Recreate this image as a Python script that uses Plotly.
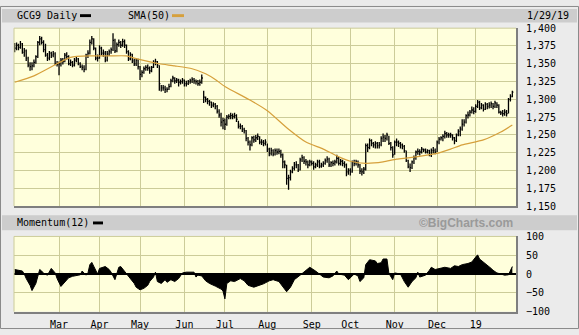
import plotly.graph_objects as go
import pandas as pd

# ---------------- data ----------------
closed_days = ["2018-03-30", "2018-12-25", "2019-01-01"]
dates = [d for d in pd.bdate_range("2018-01-29", "2019-01-29")
         if d.strftime("%Y-%m-%d") not in closed_days]

# closes / highs / lows by month (Jan 29 2018 .. Jan 29 2019)
c_janfeb = [1372, 1376, 1373, 1378, 1366, 1368, 1358, 1348, 1346, 1347, 1352, 1360, 1380, 1385, 1380, 1370, 1362, 1358, 1365, 1362, 1364, 1350, 1349]
h_janfeb = [1379, 1380, 1378, 1382, 1379, 1372, 1370, 1360, 1352, 1352, 1356, 1362, 1382, 1389, 1388, 1383, 1378, 1365, 1368, 1367, 1368, 1366, 1354]
l_janfeb = [1366, 1369, 1369, 1371, 1364, 1360, 1354, 1345, 1340, 1341, 1345, 1350, 1358, 1376, 1377, 1366, 1360, 1354, 1355, 1358, 1359, 1348, 1346]

c_mar = [1350, 1355, 1353, 1362, 1360, 1350, 1352, 1348, 1355, 1357, 1350, 1346, 1345, 1342, 1362, 1365, 1380, 1385, 1372, 1358, 1358]
h_mar = [1353, 1358, 1358, 1365, 1366, 1362, 1356, 1354, 1358, 1361, 1358, 1352, 1349, 1348, 1364, 1369, 1384, 1389, 1386, 1373, 1363]
l_mar = [1334, 1346, 1349, 1352, 1356, 1348, 1347, 1345, 1346, 1352, 1348, 1344, 1341, 1338, 1341, 1358, 1363, 1377, 1369, 1355, 1353]

c_apr = [1372, 1365, 1365, 1355, 1364, 1367, 1370, 1383, 1368, 1377, 1380, 1376, 1381, 1376, 1367, 1357, 1363, 1354, 1350, 1355, 1346]
h_apr = [1376, 1374, 1370, 1368, 1368, 1370, 1373, 1393, 1385, 1380, 1384, 1382, 1385, 1384, 1377, 1369, 1366, 1364, 1357, 1358, 1357]
l_apr = [1357, 1362, 1360, 1352, 1353, 1361, 1364, 1368, 1365, 1366, 1374, 1372, 1374, 1372, 1364, 1354, 1355, 1351, 1347, 1347, 1342]

c_may = [1335, 1338, 1343, 1345, 1344, 1340, 1345, 1352, 1353, 1348, 1322, 1316, 1316, 1314, 1314, 1318, 1326, 1330, 1326, 1327, 1324, 1325, 1327]
h_may = [1347, 1341, 1346, 1348, 1349, 1346, 1347, 1355, 1357, 1354, 1348, 1320, 1320, 1319, 1317, 1322, 1329, 1333, 1331, 1330, 1329, 1328, 1330]
l_may = [1327, 1331, 1336, 1340, 1340, 1336, 1338, 1344, 1348, 1344, 1312, 1311, 1312, 1309, 1310, 1313, 1317, 1324, 1322, 1323, 1318, 1321, 1322]

c_jun = [1322, 1322, 1325, 1326, 1328, 1326, 1325, 1322, 1324, 1330, 1303, 1300, 1297, 1296, 1292, 1293, 1290, 1283, 1278, 1268, 1270]
h_jun = [1328, 1326, 1327, 1329, 1331, 1330, 1328, 1327, 1328, 1335, 1312, 1304, 1302, 1299, 1297, 1296, 1295, 1292, 1286, 1281, 1274]
l_jun = [1318, 1318, 1320, 1322, 1323, 1322, 1321, 1319, 1319, 1322, 1295, 1296, 1293, 1291, 1288, 1289, 1286, 1280, 1274, 1262, 1258]

c_jul = [1265, 1275, 1276, 1277, 1276, 1277, 1272, 1262, 1262, 1258, 1256, 1245, 1240, 1236, 1246, 1243, 1246, 1248, 1240, 1240, 1238, 1240]
h_jul = [1273, 1278, 1279, 1281, 1280, 1281, 1279, 1270, 1266, 1264, 1260, 1257, 1247, 1242, 1248, 1249, 1250, 1252, 1248, 1244, 1243, 1244]
l_jul = [1257, 1263, 1272, 1272, 1272, 1273, 1268, 1259, 1258, 1254, 1252, 1241, 1235, 1228, 1234, 1239, 1240, 1243, 1237, 1236, 1234, 1235]

c_aug = [1230, 1224, 1228, 1223, 1228, 1226, 1227, 1222, 1212, 1208, 1189, 1190, 1198, 1203, 1208, 1208, 1201, 1215, 1218, 1213, 1212, 1208, 1212]
h_aug = [1238, 1232, 1232, 1230, 1231, 1231, 1231, 1229, 1224, 1214, 1208, 1194, 1201, 1206, 1212, 1213, 1209, 1218, 1222, 1220, 1216, 1214, 1215]
l_aug = [1226, 1220, 1221, 1220, 1221, 1222, 1223, 1218, 1203, 1203, 1180, 1173, 1186, 1196, 1200, 1203, 1198, 1200, 1212, 1209, 1207, 1203, 1206]

c_sep = [1210, 1205, 1208, 1212, 1206, 1208, 1210, 1214, 1216, 1208, 1211, 1210, 1212, 1217, 1210, 1213, 1210, 1208, 1198, 1200]
h_sep = [1214, 1213, 1211, 1215, 1215, 1211, 1213, 1217, 1220, 1218, 1213, 1214, 1215, 1222, 1219, 1216, 1215, 1213, 1210, 1203]
l_sep = [1207, 1201, 1203, 1205, 1203, 1204, 1205, 1208, 1211, 1205, 1205, 1206, 1207, 1210, 1207, 1207, 1206, 1204, 1192, 1194]

c_oct = [1198, 1212, 1210, 1212, 1208, 1199, 1198, 1202, 1235, 1232, 1242, 1238, 1236, 1238, 1235, 1236, 1245, 1247, 1245, 1250, 1238, 1232, 1222]
h_oct = [1203, 1214, 1215, 1215, 1214, 1209, 1203, 1205, 1238, 1238, 1245, 1244, 1240, 1241, 1240, 1240, 1248, 1252, 1250, 1253, 1249, 1240, 1234]
l_oct = [1193, 1197, 1206, 1207, 1204, 1195, 1193, 1195, 1200, 1226, 1230, 1234, 1232, 1231, 1231, 1231, 1234, 1240, 1240, 1242, 1236, 1228, 1218]

c_nov = [1240, 1240, 1238, 1236, 1234, 1228, 1214, 1205, 1204, 1212, 1218, 1226, 1227, 1226, 1230, 1229, 1226, 1228, 1222, 1228, 1228, 1226]
h_nov = [1242, 1245, 1242, 1240, 1238, 1236, 1228, 1215, 1210, 1214, 1221, 1228, 1231, 1230, 1233, 1231, 1231, 1230, 1229, 1231, 1233, 1231]
l_nov = [1222, 1234, 1233, 1231, 1230, 1225, 1212, 1203, 1198, 1202, 1209, 1215, 1222, 1221, 1224, 1226, 1224, 1224, 1220, 1219, 1224, 1223]

c_dec = [1240, 1244, 1246, 1248, 1252, 1250, 1250, 1250, 1246, 1242, 1250, 1255, 1258, 1265, 1268, 1277, 1278, 1282, 1285, 1283]
h_dec = [1242, 1247, 1248, 1251, 1256, 1254, 1253, 1253, 1251, 1247, 1252, 1258, 1262, 1272, 1272, 1279, 1283, 1285, 1290, 1289]
l_dec = [1226, 1237, 1242, 1241, 1245, 1246, 1246, 1246, 1242, 1237, 1240, 1248, 1248, 1256, 1262, 1266, 1273, 1276, 1280, 1279]

c_jan = [1290, 1296, 1288, 1292, 1286, 1293, 1290, 1292, 1294, 1290, 1295, 1292, 1282, 1281, 1280, 1282, 1280, 1300, 1304, 1310]
h_jan = [1293, 1299, 1298, 1295, 1293, 1296, 1295, 1296, 1297, 1295, 1298, 1296, 1293, 1284, 1285, 1286, 1285, 1302, 1307, 1312]
l_jan = [1281, 1288, 1285, 1286, 1283, 1285, 1286, 1287, 1288, 1286, 1288, 1288, 1280, 1278, 1276, 1277, 1276, 1280, 1297, 1303]

close = c_janfeb + c_mar + c_apr + c_may + c_jun + c_jul + c_aug + c_sep + c_oct + c_nov + c_dec + c_jan
high = h_janfeb + h_mar + h_apr + h_may + h_jun + h_jul + h_aug + h_sep + h_oct + h_nov + h_dec + h_jan
low = l_janfeb + l_mar + l_apr + l_may + l_jun + l_jul + l_aug + l_sep + l_oct + l_nov + l_dec + l_jan
n = min(len(dates), len(close), len(high), len(low))

# SMA(50) read at selected trading-day indices
sma_idx = [0, 10, 22, 29, 39, 49, 58, 62, 68, 75, 83, 92, 99, 104, 109, 122, 131, 142, 151, 160, 169, 174, 182, 191, 198, 205, 219, 226, 232, 243, 252, 258]
sma_val = [1324, 1333, 1350, 1359, 1361, 1361, 1361, 1358, 1354, 1350, 1347, 1343, 1336, 1328, 1318, 1299, 1284, 1258, 1240, 1230, 1218, 1213, 1210, 1212, 1216, 1218, 1224, 1230, 1236, 1243, 1254, 1264]

# Momentum(12) read at selected trading-day indices
mom_idx = [0, 2, 4, 5, 6, 8, 9, 11, 12, 13, 14, 15, 17, 18, 19, 21, 22, 24, 26, 28, 30, 32, 34, 35, 37, 38, 39, 40, 42, 43, 44, 46, 47, 49, 50, 52, 54, 55, 57, 58,
           60, 62, 63, 65, 67, 69, 70, 72, 73, 74, 76, 78, 79, 81, 83, 85, 87, 89, 93, 94, 95, 97, 99, 101, 104, 107, 108, 109, 110, 112, 114, 117, 119,
           121, 124, 126, 129, 132, 134, 137, 139, 141, 143, 145, 148, 151, 153, 156, 158, 160, 163, 165, 167, 168, 171, 173, 176, 178, 179, 181, 182,
           184, 187, 188, 190, 191, 193, 194, 196, 197, 200, 202, 204, 206, 208, 209, 210, 213, 215, 216, 218, 221, 223, 226, 228, 230, 232, 235, 237,
           239, 240, 241, 243, 245, 247, 248, 250, 252, 254, 256, 258]
mom_val = [12, 10, 8, 0, -12, -30, -44, -25, -3, 12, 8, 2, -3, 8, 15, 3, -12, -33, -20, -10, -6, -5, -2, 8, -3, 3, 25, 31, 10, 0, 15, 18, 20, 12, 5, -15, 18, 20, 8, 2,
           -10, -25, -35, -42, -38, -30, -20, -8, 5, -20, -25, -15, -22, -15, -20, -12, 3, 5, 5, -8, -3, -5, -18, -25, -32, -40, -45, -66, -25, -18, -20, -12, -18,
           -30, -35, -32, -26, -18, -15, -20, -32, -47, -35, -15, -3, 10, 18, 8, 0, -8, -10, -5, 8, 0, -3, -15, 0, -5, -20, -10, 25,
           38, 35, 28, 30, 40, 40, 2, -15, 3, 0, -20, -35, -20, -10, 5, -8, -3, 10, 18, 12, 15, 18, 15, 22, 20, 25, 28, 32,
           45, 51, 40, 32, 25, 15, 10, 3, 0, -3, -2, 20]
m = min(len(mom_idx), len(mom_val))

month_labels = ["Mar", "Apr", "May", "Jun", "Jul", "Aug", "Sep", "Oct", "Nov", "Dec", "19"]
price_ticks = [1150, 1175, 1200, 1225, 1250, 1275, 1300, 1325, 1350, 1375, 1400]
mom_ticks = [-100, -50, 0, 50, 100]

# month-start positions (first trading day of each month, Mar 2018 onward)
month_pos = []
seen = set()
for i, d in enumerate(dates[:n]):
    key = (d.year, d.month)
    if key not in seen:
        seen.add(key)
        if (d.year, d.month) >= (2018, 3):
            month_pos.append(i)
month_pos = month_pos[:len(month_labels)]

# ---------------- styling ----------------
W, H = 579, 335
PAPER = "#ebebeb"
PLOTBG = "#ffffdc"
GRID = "#cccc99"
HEADER = "#cdcdcd"
FRAME = "#7f7f7f"
SMA_C = "#d6a03c"
FONT = "DejaVu Sans Mono"

def px(x):
    return x / W

def py(y):
    return 1 - y / H

# bar path: vertical high-low line plus close tick
bx, by = [], []
for i in range(n):
    bx += [i, i, None, i, i + 0.55, None]
    by += [low[i], high[i], None, close[i], close[i], None]

fig = go.Figure()
fig.add_trace(go.Scatter(x=bx, y=by, mode="lines", line=dict(color="black", width=1.3),
                         xaxis="x", yaxis="y", hoverinfo="skip", showlegend=False))
fig.add_trace(go.Scatter(x=sma_idx, y=sma_val, mode="lines", line=dict(color=SMA_C, width=1.2, shape="spline", smoothing=0.6),
                         xaxis="x", yaxis="y", showlegend=False))
fig.add_trace(go.Scatter(x=mom_idx[:m], y=mom_val[:m], mode="lines", fill="tozeroy", fillcolor="black",
                         line=dict(color="black", width=1), xaxis="x2", yaxis="y2", showlegend=False))

xr = [-0.33, 259.9]
xdom = [px(14), px(516)]
common_x = dict(range=xr, domain=xdom, tickmode="array", tickvals=month_pos, showgrid=True,
                gridcolor=GRID, gridwidth=1, zeroline=False, showline=True, linecolor=FRAME,
                linewidth=2, ticks="", fixedrange=True)

fig.update_layout(
    width=W, height=H, margin=dict(l=0, r=0, t=0, b=0),
    paper_bgcolor=PAPER, plot_bgcolor=PLOTBG,
    font=dict(family=FONT, size=10, color="black"),
    showlegend=False,
    xaxis=dict(common_x, anchor="y", showticklabels=False),
    yaxis=dict(range=[1150, 1400], domain=[py(207.5), py(23)], side="right", anchor="x",
               tickmode="array", tickvals=price_ticks, tickformat=",d", showgrid=True,
               gridcolor=GRID, gridwidth=1, zeroline=False, showline=True, linecolor=FRAME,
               linewidth=2, ticks="", ticklabelstandoff=6, fixedrange=True),
    xaxis2=dict(common_x, anchor="y2", ticktext=month_labels, showticklabels=True,
                ticklabelstandoff=2),
    yaxis2=dict(range=[-100, 100], domain=[py(317), py(239)], side="right", anchor="x2",
                tickmode="array", tickvals=mom_ticks, showgrid=True, gridcolor=GRID,
                gridwidth=1, zeroline=True, zerolinecolor="black", zerolinewidth=2,
                showline=True, linecolor=FRAME, linewidth=2, ticks="", ticklabelstandoff=6,
                fixedrange=True),
)

shapes = [
    # outer frame
    dict(type="rect", xref="paper", yref="paper", x0=px(0.5), x1=px(578.5), y0=py(334.5), y1=py(0.5),
         line=dict(color="#8a8a8a", width=1), fillcolor="rgba(0,0,0,0)", layer="above"),
    # header bars
    dict(type="rect", xref="paper", yref="paper", x0=px(2), x1=px(577), y0=py(17), y1=py(3),
         line=dict(width=0), fillcolor=HEADER, layer="below"),
    dict(type="rect", xref="paper", yref="paper", x0=px(2), x1=px(577), y0=py(232.5), y1=py(217),
         line=dict(width=0), fillcolor=HEADER, layer="below"),
    # legend swatches
    dict(type="rect", xref="paper", yref="paper", x0=px(80), x1=px(91), y0=py(11.5), y1=py(8.5),
         line=dict(width=0), fillcolor="black"),
    dict(type="rect", xref="paper", yref="paper", x0=px(172), x1=px(184), y0=py(11.5), y1=py(8.5),
         line=dict(width=0), fillcolor=SMA_C),
    dict(type="rect", xref="paper", yref="paper", x0=px(93), x1=px(103), y0=py(226.5), y1=py(223.5),
         line=dict(width=0), fillcolor="black"),
    # top / left plot edges (khaki)
    dict(type="line", xref="paper", yref="paper", x0=px(14), x1=px(516), y0=py(23), y1=py(23),
         line=dict(color=GRID, width=1)),
    dict(type="line", xref="paper", yref="paper", x0=px(14), x1=px(14), y0=py(207.5), y1=py(23),
         line=dict(color=GRID, width=1)),
    dict(type="line", xref="paper", yref="paper", x0=px(14), x1=px(516), y0=py(239), y1=py(239),
         line=dict(color=GRID, width=1)),
    dict(type="line", xref="paper", yref="paper", x0=px(14), x1=px(14), y0=py(317), y1=py(239),
         line=dict(color=GRID, width=1)),
]
fig.update_layout(shapes=shapes)

ann = [
    dict(text="GCG9 Daily", x=px(15), y=py(10)),
    dict(text="SMA(50)", x=px(126), y=py(10)),
    dict(text="1/29/19", x=px(525), y=py(10)),
    dict(text="Momentum(12)", x=px(15), y=py(225)),
]
annotations = [dict(a, xref="paper", yref="paper", xanchor="left", yanchor="middle", showarrow=False,
                    font=dict(family=FONT, size=10, color="black")) for a in ann]
annotations.append(dict(text="<b>©BigCharts.com</b>", x=px(515), y=py(225), xref="paper", yref="paper",
                        xanchor="right", yanchor="middle", showarrow=False,
                        font=dict(family="Liberation Sans", size=12, color="#9a9a9a")))
fig.update_layout(annotations=annotations)

fig.write_html("out.html")
